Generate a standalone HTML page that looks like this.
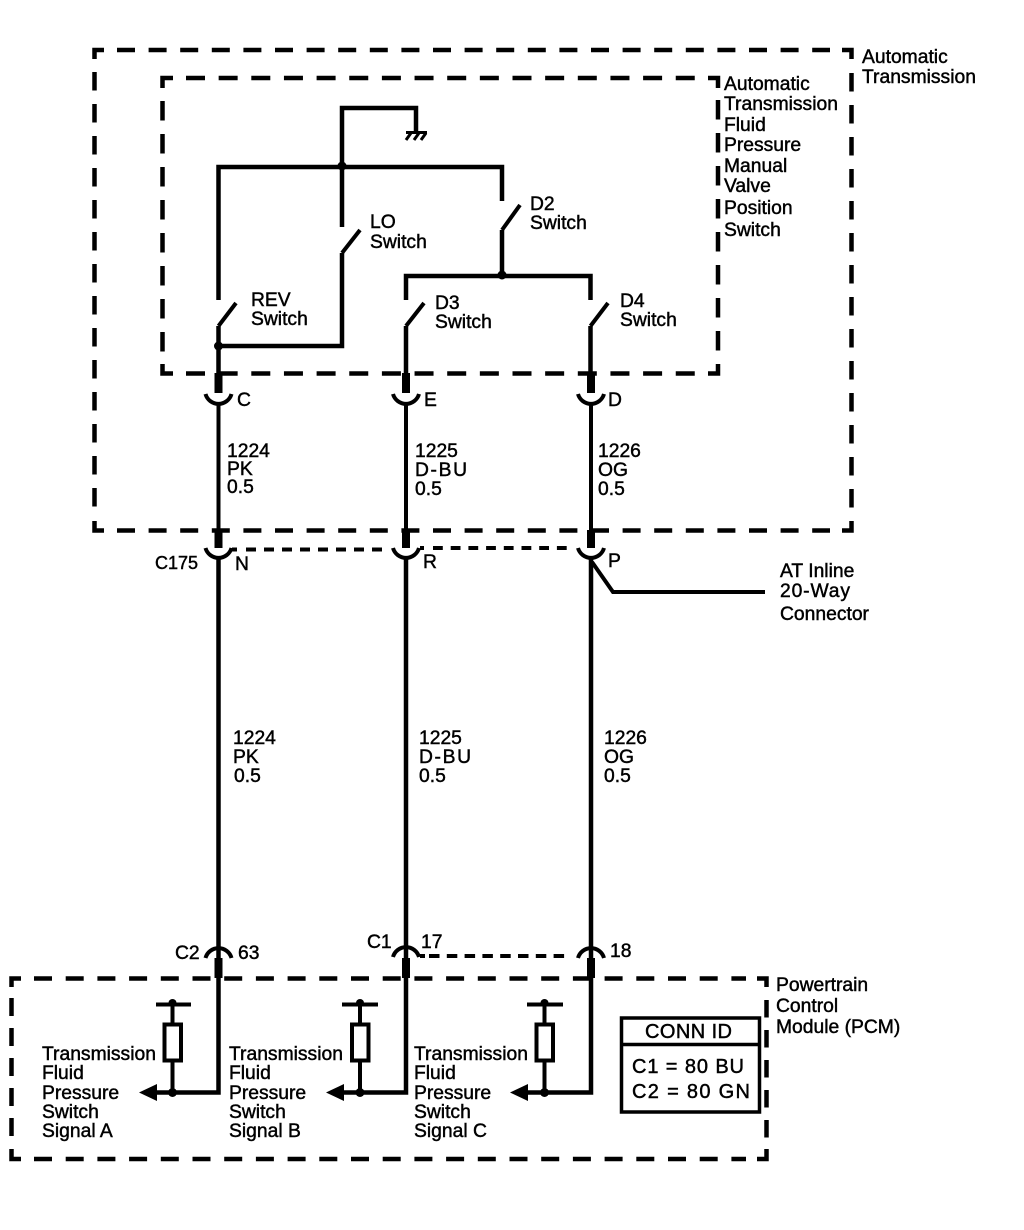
<!DOCTYPE html>
<html><head><meta charset="utf-8">
<style>
html,body{margin:0;padding:0;background:#fff;width:1024px;height:1230px;overflow:hidden}
svg{display:block}
text{font-family:"Liberation Sans",sans-serif;font-size:19.3px;fill:#000;stroke:#000;stroke-width:.45}
.w{fill:none;stroke:#000;stroke-width:4.5}
.t{fill:none;stroke:#000;stroke-width:8}
.c{fill:none;stroke:#000;stroke-width:4}
</style></head><body>
<svg width="1024" height="1230" viewBox="0 0 1024 1230" xmlns="http://www.w3.org/2000/svg">
<rect width="1024" height="1230" fill="#fff"/>
<!-- outer box -->
<g fill="none" stroke="#000" stroke-width="4.5">
<path d="M94.500 59V50H104M842 50H851.500V59M851.500 521V530.500H842M104 530.500H94.500V521"/>
<path d="M117 50H830" stroke-dasharray="18 13.6"/>
<path d="M117 530.500H830" stroke-dasharray="18 13.6"/>
<path d="M94.500 72V510" stroke-dasharray="18.500 13.500"/>
<path d="M851.500 73V510" stroke-dasharray="18.500 13.500"/>
<!-- inner box -->
<path d="M162.500 88V78H173M708 78H718V88M718 364V373.500H708M173 373.500H162.500V364"/>
<path d="M186 78H696" stroke-dasharray="19 13.650"/>
<path d="M186 373.500H696" stroke-dasharray="19 13.650"/>
<path d="M162.500 101V352" stroke-dasharray="19.500 13.500"/>
<path d="M718 100V352" stroke-dasharray="19.500 13.500"/>
<!-- PCM box -->
<path d="M11.500 987V978.500H21M757 978.500H766.500V987M766.500 1149V1159H757M21 1159H11.500V1149"/>
<path d="M34 978.500H746" stroke-dasharray="18 13.700"/>
<path d="M34 1159H746" stroke-dasharray="18 13.700"/>
<path d="M11.500 998V1138" stroke-dasharray="18 12"/>
<path d="M766.500 1000V1138" stroke-dasharray="17.500 12.500"/>
</g>
<!-- ground and buses -->
<path class="w" d="M342 227V108H416V132"/>
<path class="w" d="M218.500 300V167H502V201"/>
<path d="M406 131H427V134H406Z" fill="#000"/>
<path d="M411 133L406 140M419 133L414 140M426 133L421 140" stroke="#000" stroke-width="3" fill="none"/>
<circle cx="342" cy="166" r="4.500"/>
<!-- switches -->
<path class="c" d="M218.500 326L236 303"/>
<path class="c" d="M342 253L360 230"/>
<path class="c" d="M502 230L520 205"/>
<path class="c" d="M406 326L424 303"/>
<path class="c" d="M590.500 326L608 303"/>
<path class="w" d="M218.500 326V375M218.500 346H342V253"/>
<circle cx="218.500" cy="346" r="4.500"/>
<path class="w" d="M502 230V276"/>
<path class="w" d="M406 300V276H590.500V300"/>
<circle cx="502" cy="275" r="4.500"/>
<path class="w" d="M406 326V375"/>
<path class="w" d="M590.500 326V375"/>
<!-- connector stubs -->
<path class="t" d="M218.500 373V393M406 373V393M591 373V393"/>
<path class="c" d="M205.500 394A13.500 13.500 0 0 0 231.500 394M393 394A13.500 13.500 0 0 0 419 394M578 394A13.500 13.500 0 0 0 604 394"/>
<path class="c" d="M218.500 403V530M406 403V530M591 403V530"/>
<path class="t" d="M218.500 530V548M406 530V548M591 530V548"/>
<path class="c" d="M205.500 548A13.500 13.500 0 0 0 231.500 548M393 548A13.500 13.500 0 0 0 419 548M578 548A13.500 13.500 0 0 0 604 548"/>
<path class="w" d="M218.500 557V958M406 557V958M591 557V958"/>
<path d="M232 549.500H237" fill="none" stroke="#000" stroke-width="4"/>
<path d="M246 549.500H386" fill="none" stroke="#000" stroke-width="4" stroke-dasharray="10 8"/>
<path d="M420 548H424" fill="none" stroke="#000" stroke-width="4"/>
<path d="M433 548H567" fill="none" stroke="#000" stroke-width="4" stroke-dasharray="9.800 7.900"/>
<path d="M420 956H425" fill="none" stroke="#000" stroke-width="4"/>
<path d="M429 956H567" fill="none" stroke="#000" stroke-width="4" stroke-dasharray="10.500 7.300"/>
<path class="c" d="M592 562L613 592H765" stroke-width="3.500"/>
<!-- bottom connectors -->
<path class="c" d="M205.500 958A13.500 13.500 0 0 1 231.500 958M393 957A13.500 13.500 0 0 1 419 957M578 958A13.500 13.500 0 0 1 604 958"/>
<path class="t" d="M218.500 958V978M406 958V978M591 958V978"/>
<path class="w" d="M218.500 978V1092.500H155"/>
<path class="w" d="M406 978V1092.500H342"/>
<path class="w" d="M591 978V1092.500H526"/>
<path d="M139 1092.500L157 1084V1101Z"/>
<path d="M326 1092.500L344 1084V1101Z"/>
<path d="M510 1092.500L528 1084V1101Z"/>
<path class="c" d="M156 1004.500H191M172.500 1004V1025M172.500 1060V1092"/>
<rect x="164.500" y="1024.500" width="16.500" height="36" class="c"/>
<path class="c" d="M342 1004.500H378M360 1004V1025M360 1060V1092"/>
<rect x="352" y="1024.500" width="16.500" height="36" class="c"/>
<path class="c" d="M527 1004.500H563M544.500 1004V1025M544.500 1060V1092"/>
<rect x="536.500" y="1024.500" width="16.500" height="36" class="c"/>
<circle cx="172.500" cy="1003" r="4"/><circle cx="172.500" cy="1092.500" r="4.500"/>
<circle cx="360" cy="1003" r="4"/><circle cx="360" cy="1092.500" r="4.500"/>
<circle cx="544.500" cy="1003" r="4"/><circle cx="544.500" cy="1092.500" r="4.500"/>
<!-- CONN ID -->
<rect x="621.500" y="1018" width="138" height="94" fill="none" stroke="#000" stroke-width="3.500"/>
<path d="M621 1044.500H760" stroke="#000" stroke-width="3.500"/>
<text x="645" y="1038" style="font-size:20px" textLength="87">CONN ID</text>
<text x="632" y="1073" style="font-size:20px" textLength="112">C1 = 80 BU</text>
<text x="632" y="1098" style="font-size:20px" textLength="118">C2 = 80 GN</text>
<!-- labels -->
<text x="862" y="63">Automatic</text><text x="862" y="83">Transmission</text>
<text x="724" y="90">Automatic</text><text x="724" y="110">Transmission</text><text x="724" y="131">Fluid</text><text x="724" y="151">Pressure</text><text x="724" y="172">Manual</text><text x="724" y="192">Valve</text><text x="724" y="214">Position</text><text x="724" y="236">Switch</text>
<text x="370" y="228">LO</text><text x="370" y="248">Switch</text>
<text x="530" y="210">D2</text><text x="530" y="229">Switch</text>
<text x="251" y="306">REV</text><text x="251" y="325">Switch</text>
<text x="435" y="309">D3</text><text x="435" y="328">Switch</text>
<text x="620" y="307">D4</text><text x="620" y="326">Switch</text>
<text x="237" y="406">C</text><text x="424" y="406">E</text><text x="608" y="406">D</text>
<text x="227" y="457">1224</text><text x="227" y="475">PK</text><text x="227" y="493">0.5</text>
<text x="415" y="457">1225</text><text x="415" y="476" textLength="52">D-BU</text><text x="415" y="495">0.5</text>
<text x="598" y="457">1226</text><text x="598" y="476">OG</text><text x="598" y="495">0.5</text>
<text x="155" y="569" style="font-size:18px">C175</text><text x="235" y="570">N</text><text x="423" y="568">R</text><text x="608" y="567">P</text>
<text x="780" y="577">AT Inline</text><text x="780" y="597" textLength="70">20-Way</text><text x="780" y="620">Connector</text>
<text x="233" y="744">1224</text><text x="233" y="763">PK</text><text x="234" y="782">0.5</text>
<text x="419" y="744">1225</text><text x="419" y="763" textLength="52">D-BU</text><text x="419" y="782">0.5</text>
<text x="604" y="744">1226</text><text x="604" y="763">OG</text><text x="604" y="782">0.5</text>
<text x="175" y="959">C2</text><text x="238" y="959">63</text>
<text x="367" y="948">C1</text><text x="421" y="948">17</text><text x="610" y="957">18</text>
<text x="42" y="1060">Transmission</text><text x="42" y="1079">Fluid</text><text x="42" y="1099">Pressure</text><text x="42" y="1118">Switch</text><text x="42" y="1137">Signal A</text>
<text x="229" y="1060">Transmission</text><text x="229" y="1079">Fluid</text><text x="229" y="1099">Pressure</text><text x="229" y="1118">Switch</text><text x="229" y="1137">Signal B</text>
<text x="414" y="1060">Transmission</text><text x="414" y="1079">Fluid</text><text x="414" y="1099">Pressure</text><text x="414" y="1118">Switch</text><text x="414" y="1137">Signal C</text>
<text x="776" y="991">Powertrain</text><text x="776" y="1012">Control</text><text x="776" y="1033">Module (PCM)</text>
</svg>
</body></html>
